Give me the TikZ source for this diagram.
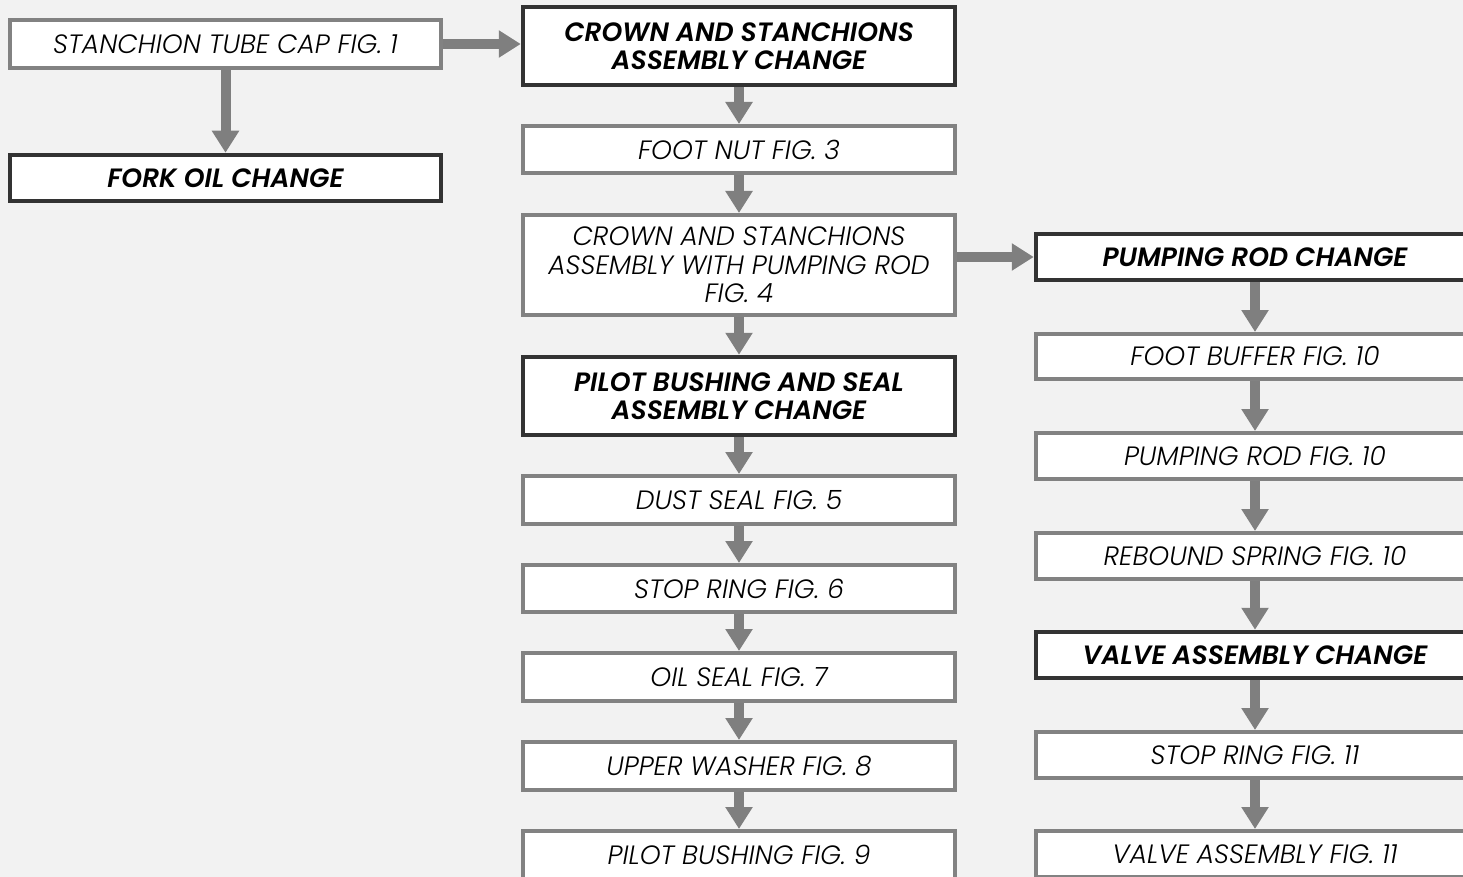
\documentclass[tikz,border=0pt]{standalone}
\usepackage{fontspec}
\setmainfont{Poppins}[UprightFont=* Light, ItalicFont=* Light Italic, BoldFont=* SemiBold, BoldItalicFont=* SemiBold Italic]
\usetikzlibrary{arrows.meta}
\definecolor{bg}{HTML}{F2F2F2}
\definecolor{gline}{HTML}{828282}
\definecolor{dline}{HTML}{333333}
\definecolor{arr}{HTML}{7F7F7F}
\tikzset{
  gbox/.style={draw=gline, line width=4pt, fill=white, align=center, inner sep=0pt,
    font=\itshape\fontsize{26.5}{28.5}\selectfont, text=black},
  dbox/.style={draw=dline, line width=4.5pt, fill=white, align=center, inner sep=0pt,
    font=\bfseries\itshape\fontsize{26.5}{28.5}\selectfont, text=black},
  lcol/.style={minimum width=431pt},
  mcol/.style={minimum width=432pt},
  rcol/.style={minimum width=438pt},
  flow/.style={draw=arr, line width=10pt, -{Triangle[width=26pt,length=22pt]}, color=arr}
}
\begin{document}
\begin{tikzpicture}[x=1pt,y=-1pt]
\fill[bg] (0,0) rectangle (1463,877);
\useasboundingbox (0,0) rectangle (1463,877);
\begin{scope}
\clip (0,0) rectangle (1463,877);
% left column
\node[gbox,lcol,minimum height=48pt] (cap) at (225.5,44) {STANCHION TUBE CAP FIG. 1};
\node[dbox,lcol,minimum height=46pt] (oil) at (225.5,178) {FORK OIL CHANGE};
% middle column
\node[dbox,mcol,minimum height=78pt] (crown) at (739,46) {CROWN AND STANCHIONS\\ASSEMBLY CHANGE};
\node[gbox,mcol,minimum height=47pt] (footnut) at (739,149.5) {FOOT NUT FIG. 3};
\node[gbox,mcol,minimum height=100pt] (crownrod) at (739,265) {CROWN AND STANCHIONS\\ASSEMBLY WITH PUMPING ROD\\FIG. 4};
\node[dbox,mcol,minimum height=78pt] (pilotch) at (739,396) {PILOT BUSHING AND SEAL\\ASSEMBLY CHANGE};
\node[gbox,mcol,minimum height=48pt] (dust) at (739,500) {DUST SEAL FIG. 5};
\node[gbox,mcol,minimum height=47pt] (stop6) at (739,588.5) {STOP RING FIG. 6};
\node[gbox,mcol,minimum height=48pt] (seal7) at (739,677) {OIL SEAL FIG. 7};
\node[gbox,mcol,minimum height=48pt] (washer) at (739,766) {UPPER WASHER FIG. 8};
\node[gbox,mcol,minimum height=48pt] (pilot9) at (739,855) {PILOT BUSHING FIG. 9};
% right column
\node[dbox,rcol,minimum height=46pt] (rodch) at (1255,257) {PUMPING ROD CHANGE};
\node[gbox,rcol,minimum height=45pt] (buffer) at (1255,356.5) {FOOT BUFFER FIG. 10};
\node[gbox,rcol,minimum height=46pt] (rod10) at (1255,456) {PUMPING ROD FIG. 10};
\node[gbox,rcol,minimum height=46pt] (spring) at (1255,556) {REBOUND SPRING FIG. 10};
\node[dbox,rcol,minimum height=46pt] (valvech) at (1255,655) {VALVE ASSEMBLY CHANGE};
\node[gbox,rcol,minimum height=46pt] (stop11) at (1255,755) {STOP RING FIG. 11};
\node[gbox,rcol,minimum height=46pt] (valve11) at (1255,854) {VALVE ASSEMBLY FIG. 11};
% connectors
\draw[flow] (cap.south) -- (oil.north);
\draw[flow] (cap.east) -- (crown.west |- cap.east);
\draw[flow] (crown.south) -- (footnut.north);
\draw[flow] (footnut.south) -- (crownrod.north);
\draw[flow] (crownrod.south) -- (pilotch.north);
\draw[flow] (pilotch.south) -- (dust.north);
\draw[flow] (dust.south) -- (stop6.north);
\draw[flow] (stop6.south) -- (seal7.north);
\draw[flow] (seal7.south) -- (washer.north);
\draw[flow] (washer.south) -- (pilot9.north);
\draw[flow] (crownrod.east |- rodch.west) -- (rodch.west);
\draw[flow] (rodch.south) -- (buffer.north);
\draw[flow] (buffer.south) -- (rod10.north);
\draw[flow] (rod10.south) -- (spring.north);
\draw[flow] (spring.south) -- (valvech.north);
\draw[flow] (valvech.south) -- (stop11.north);
\draw[flow] (stop11.south) -- (valve11.north);
\end{scope}
\end{tikzpicture}
\end{document}
